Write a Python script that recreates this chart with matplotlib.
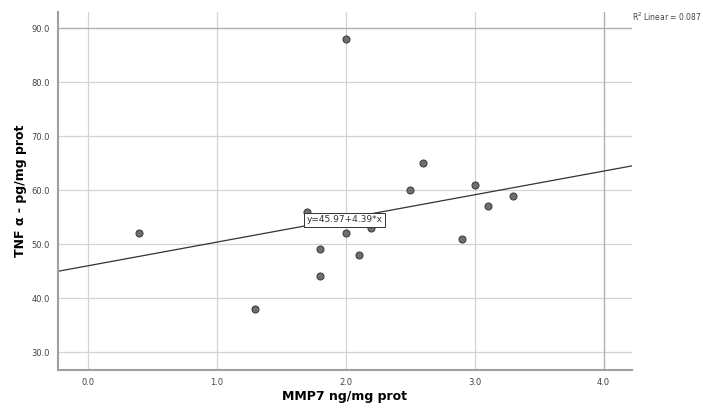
import numpy as np
import matplotlib.pyplot as plt

# MMP7 (ng/mg prot) vs TNF alpha (pg/mg prot)
mmp7 = [0.4, 1.3, 1.7, 1.8, 1.8, 2.0, 2.0, 2.1, 2.2, 2.5, 2.6, 2.9, 3.0, 3.1, 3.3]
tnf = [52, 38, 56, 49, 44, 88, 52, 48, 53, 60, 65, 51, 61, 57, 59]
intercept = 45.97
slope = 4.39
r2_text = "R$^2$ Linear = 0.087"
x_ticks = [0.0, 1.0, 2.0, 3.0, 4.0]
y_ticks = [30.0, 40.0, 50.0, 60.0, 70.0, 80.0, 90.0]

fig = plt.figure(figsize=(7.03, 4.16), dpi=100)
ax = fig.add_axes([0.0825, 0.111, 0.8165, 0.86])

xmin, xmax = -0.23, 4.22
ymin, ymax = 26.7, 93.0
ax.set_xlim(xmin, xmax)
ax.set_ylim(ymin, ymax)

# grid
ax.set_xticks(x_ticks)
ax.set_yticks(y_ticks)
ax.set_xticklabels([f"{v:.1f}" for v in x_ticks])
ax.set_yticklabels([f"{v:.1f}" for v in y_ticks])
ax.grid(True, color='#d4d4d4', linewidth=0.9)
ax.set_axisbelow(True)
ax.tick_params(length=0, labelsize=6, colors='#444444', pad=6)

# outer reference lines drawn a bit darker
ax.axhline(y_ticks[-1], color='#b0b0b0', linewidth=0.9, zorder=1)
ax.axvline(x_ticks[-1], color='#b0b0b0', linewidth=0.9, zorder=1)

for s in ['top', 'right']:
    ax.spines[s].set_visible(False)
for s in ['left', 'bottom']:
    ax.spines[s].set_color('#a0a0a0')
    ax.spines[s].set_linewidth(1.5)

# fit line
xl = np.array([xmin, xmax])
ax.plot(xl, intercept + slope * xl, color='#333333', linewidth=0.9, zorder=2)

# points
ax.scatter(mmp7, tnf, s=26, color='#6e6e6e', edgecolors='#3a3a3a', linewidths=0.7, zorder=3)

# equation label
ax.text(1.99, 54.5, f"y={intercept:.2f}+{slope:.2f}*x", fontsize=6.5, ha='center', va='center',
        color='#333333', zorder=4,
        bbox=dict(boxstyle='square,pad=0.25', facecolor='white', edgecolor='#333333', linewidth=0.7))

fig.text(632 / 703, 1 - 17 / 416, r2_text, fontsize=5.5, color='#444444', ha='left', va='center')

ax.set_xlabel("MMP7 ng/mg prot", fontsize=9, fontweight='bold', labelpad=2)
ax.set_ylabel("TNF α - pg/mg prot", fontsize=9, fontweight='bold', labelpad=3)

fig.savefig("out.png", dpi=100)
